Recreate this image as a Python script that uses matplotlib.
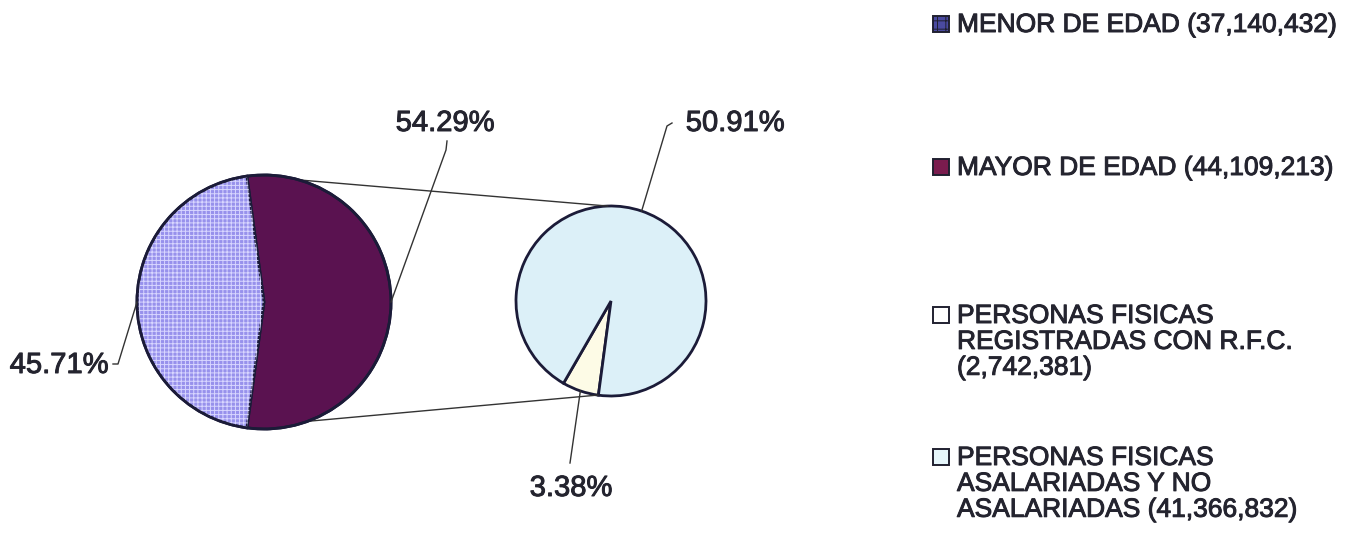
import numpy as np
import matplotlib.pyplot as plt
import matplotlib.patheffects as pe
from matplotlib.patches import Wedge, Circle, Rectangle

W, H = 1359, 536

# data
main_names = ["MAYOR DE EDAD", "MENOR DE EDAD"]
main_values = [44109213, 37140432]
sub_names = ["PERSONAS FISICAS\nREGISTRADAS CON R.F.C.\n", "PERSONAS FISICAS\nASALARIADAS Y NO\nASALARIADAS "]
sub_values = [2742381, 41366832]

main_colors = ["#5a1250", "#9791ec"]
sub_colors = ["#fdfbe6", "#dcf0f8"]
edge = "#1b1b38"
txt = "#24242f"

plt.rcParams['font.family'] = ['Liberation Sans', 'DejaVu Sans']
plt.rcParams['hatch.linewidth'] = 0.7

fig = plt.figure(figsize=(W / 100, H / 100), dpi=100)
ax = fig.add_axes([0, 0, 1, 1])

total = sum(main_values)
bold = [pe.withStroke(linewidth=0.7, foreground=txt)]

# left pie, the "other" slice (mayor) centred on the right
c1, r1 = (264, H - 302), 127
start1 = -main_values[0] / total * 180
w1, _ = ax.pie(main_values, colors=main_colors, startangle=start1, center=c1, radius=r1,
               wedgeprops=dict(edgecolor=edge, linewidth=2.0), frame=True)
# grid texture on the menor slice
hw = w1[1]
ax.add_patch(Wedge(hw.center, hw.r, hw.theta1, hw.theta2, facecolor='none',
                   edgecolor='#d8d6ff', hatch='++++', linewidth=0, zorder=3))
ax.add_patch(Circle(c1, r1, facecolor='none', edgecolor=edge, linewidth=2.0, zorder=4))

# right pie, the breakdown of mayor de edad
c2, r2 = (611, H - 301), 95
w2, _ = ax.pie(sub_values, colors=sub_colors, startangle=240, center=c2, radius=r2,
               wedgeprops=dict(edgecolor=edge, linewidth=2.0), frame=True)
ax.set_xlim(0, W)
ax.set_ylim(0, H)
ax.set_aspect('equal')
ax.axis('off')


def pt(c, r, ang):
    a = np.deg2rad(ang)
    return c[0] + r * np.cos(a), c[1] + r * np.sin(a)


# connector lines between the two pies
for a_left, a_right in [(74, 92), (-70, -98)]:
    p, q = pt(c1, r1, a_left), pt(c2, r2, a_right)
    ax.plot([p[0], q[0]], [p[1], q[1]], color='#333333', lw=1.0, zorder=1)


def label(wedge, c, r, value, bend, text_xy):
    mid = (wedge.theta1 + wedge.theta2) / 2
    p = pt(c, r, mid)
    xs = [p[0], bend[0][0], bend[1][0]]
    ys = [p[1], H - bend[0][1], H - bend[1][1]]
    ax.plot(xs, ys, color='#333333', lw=1.0, zorder=5)
    ax.text(text_xy[0], H - text_xy[1], f"{value / total * 100:.2f}%", fontsize=21,
            color=txt, ha='center', va='center', path_effects=bold)


label(w1[0], c1, r1, main_values[0], [(446, 150), (447, 141)], (445, 123))
label(w1[1], c1, r1, main_values[1], [(118, 364), (113, 364)], (59, 365))
label(w2[1], c2, r2, sub_values[1], [(667, 126), (672, 123)], (735, 123))
label(w2[0], c2, r2, sub_values[0], [(570, 463), (570, 463)], (571, 488))

# legend drawn by hand to keep the spacing of the original
leg_names = [main_names[1], main_names[0], sub_names[0], sub_names[1]]
leg_values = [main_values[1], main_values[0], sub_values[0], sub_values[1]]
leg_colors = ["#4a4aa0", "#7a1c4e", "#ffffff", "#e6f6fb"]
leg_y = [24, 167, 315, 457]
for name, val, col, y in zip(leg_names, leg_values, leg_colors, leg_y):
    sep = "" if name.endswith("\n") or name.endswith(" ") else " "
    hatch = '++' if col == "#4a4aa0" else None
    ax.add_patch(Rectangle((933, H - y - 8), 16, 16, facecolor=col, edgecolor='#202030',
                           linewidth=1.4, hatch=hatch))
    ax.text(957, H - y + 11, f"{name}{sep}({val:,})", fontsize=19, color=txt,
            ha='left', va='top', linespacing=1.1, path_effects=bold)

fig.savefig("out.png", dpi=100)
